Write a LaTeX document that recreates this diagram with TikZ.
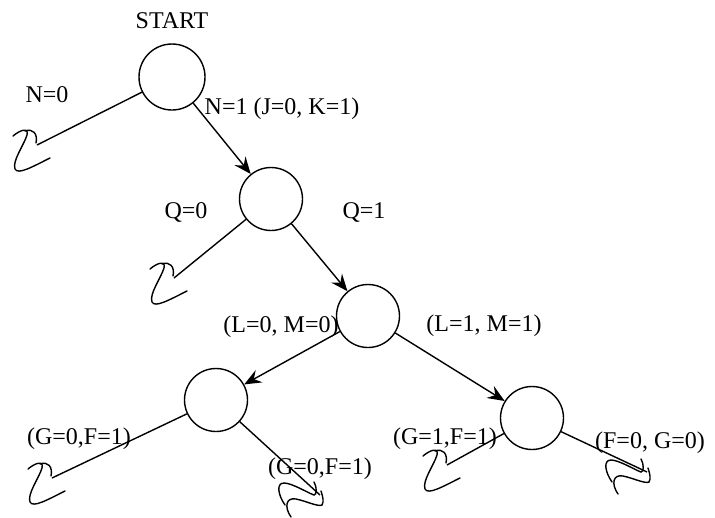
\documentclass[tikz,border=0pt]{standalone}
\usepackage{fontspec}
\setmainfont{Liberation Serif}
\usetikzlibrary{arrows.meta}
\begin{document}
\begin{tikzpicture}[x=1pt,y=-1pt,line width=1.4pt,
  state/.style={circle,draw,minimum size=63pt,inner sep=0pt},
  lbl/.style={font=\fontsize{24}{28}\selectfont,inner sep=0pt},
  arr/.style={-{Stealth[length=17pt,width=14pt,inset=6pt]}},
  lbreak/.pic={
    \draw[line cap=round] (-24,-9) .. controls (-17,-15) and (-8,-18) .. (-10,-10)
      .. controls (-13,0) and (-25,16) .. (-22,24)
      .. controls (-19,30) and (-5,22) .. (13,13);
    \draw[line cap=round] (-12,-14) .. controls (-4,-17) and (1,-11) .. (-1,-2);
  },
  rbreak/.pic={
    \draw[line cap=round] (-29,22) .. controls (-36,12) and (-34,2) .. (-24,4)
      .. controls (-14,6) and (-2,12) .. (2,10)
      .. controls (4,7) and (3,2) .. (1,-4);
    \draw[line cap=round] (-35,10) .. controls (-42,0) and (-44,-12) .. (-36,-12)
      .. controls (-28,-12) and (-12,-2) .. (-6,0)
      .. controls (-3,0) and (-3,-8) .. (-6,-13);
  }]
\useasboundingbox (0,0) rectangle (715,517);
% states
\node[state,minimum size=66pt] (s0) at (172,77) {};
\node[state] (s1) at (271,199) {};
\node[state] (s2) at (368,316) {};
\node[state] (s3) at (216,400) {};
\node[state] (s4) at (532,418) {};
% free ends
\coordinate (e1) at (37,145);
\coordinate (e2) at (174,278);
\coordinate (e3) at (52,478);
\coordinate (e4) at (320,495);
\coordinate (e5) at (447,465);
\coordinate (e6) at (647,472);
% labels
\node[lbl] (tstart) at (172,21) {START};
\node[lbl] (tn0) at (47,95) {N=0};
\node[lbl,anchor=west] (tn1) at (204,109) {N=1 (J=0, K=1)};
\node[lbl] (tq0) at (186,212) {Q=0};
\node[lbl] (tq1) at (364,212) {Q=1};
\node[lbl] (tl0) at (281,327) {(L=0, M=0)};
\node[lbl] (tl1) at (484,326) {(L=1, M=1)};
\node[lbl] (tg1) at (79,439) {(G=0,F=1)};
\node[lbl] (tg2) at (320,469) {(G=0,F=1)};
\node[lbl] (tg3) at (445,439) {(G=1,F=1)};
\node[lbl] (tf0) at (650,443) {(F=0, G=0)};
% connectors
\draw (s0) -- (e1);
\draw[arr] (s0) -- (s1);
\draw (s1) -- (e2);
\draw[arr] (s1) -- (s2);
\draw[arr] (s2) -- (s3);
\draw[arr] (s2) -- (s4);
\draw (s3) -- (e3);
\draw (s3) -- (e4);
\draw (s4) -- (e5);
\draw (s4) -- (e6);
% breaks
\pic at (e1) {lbreak};
\pic at (e2) {lbreak};
\pic at (e3) {lbreak};
\pic at (e5) {lbreak};
\pic at (e4) {rbreak};
\pic at (e6) {rbreak};
\end{tikzpicture}
\end{document}
